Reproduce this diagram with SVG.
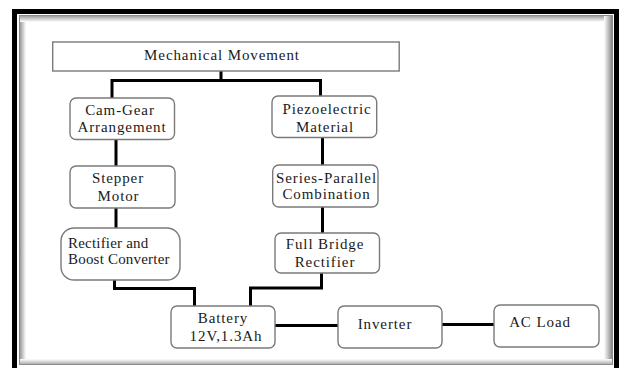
<svg xmlns="http://www.w3.org/2000/svg" width="619" height="368" viewBox="0 0 619 368">
<defs>
<linearGradient id="shL" x1="0" y1="0" x2="1" y2="0"><stop offset="0" stop-color="#9a9a9a"/><stop offset="1" stop-color="#ffffff"/></linearGradient>
<linearGradient id="shR" x1="1" y1="0" x2="0" y2="0"><stop offset="0" stop-color="#8a8a8a"/><stop offset="1" stop-color="#ffffff"/></linearGradient>
<linearGradient id="shT" x1="0" y1="0" x2="0" y2="1"><stop offset="0" stop-color="#a0a0a0"/><stop offset="1" stop-color="#ffffff"/></linearGradient>
<linearGradient id="shB" x1="0" y1="1" x2="0" y2="0"><stop offset="0" stop-color="#b0b0b0"/><stop offset="1" stop-color="#ffffff"/></linearGradient>
<style>
.box{fill:#ffffff;stroke:#7a7a7a;stroke-width:1.4}
.t{font-family:'Liberation Serif','Times New Roman','DejaVu Serif',serif;font-size:15px;fill:#1a1a1a;letter-spacing:0.9px}
.c{text-anchor:middle}
.w{fill:none;stroke:#000000;stroke-width:3;stroke-linejoin:miter}
</style>
</defs>
<rect width="619" height="368" fill="#ffffff"/>
<g id="frame">
<rect x="14.5" y="11.5" width="602" height="400" fill="none" stroke="#000" stroke-width="5"/>
<rect x="20" y="16" width="6" height="348" fill="url(#shL)"/>
<rect x="20" y="16" width="592" height="6" fill="url(#shT)"/>
<rect x="604" y="16" width="8" height="348" fill="url(#shR)"/>
<rect x="20" y="359" width="592" height="5" fill="url(#shB)"/>
<rect x="19.5" y="15.5" width="593" height="349" fill="none" stroke="#8c8c8c" stroke-width="1"/>
</g>
<g id="connectors">
<path class="w" d="M221 71 V80.5 M110.5 80.5 H322 M112 79 V98 M320.5 79 V96"/>
<path class="w" d="M116 139 V166 M116 208 V228"/>
<path class="w" d="M322.5 137 V165 M322.5 207 V233"/>
<path class="w" d="M114.5 280 V288.5 H194.5 V306"/>
<path class="w" d="M321.5 273 V288 H250.5 V306"/>
<path class="w" d="M275 325.5 H338 M442 324.5 H494"/>
</g>
<g id="mechanical">
<rect class="box" x="52.7" y="42" width="346.5" height="29"/>
<text class="t c" x="222" y="60">Mechanical Movement</text>
</g>
<g id="camgear">
<rect class="box" x="70" y="98" width="104.5" height="41.5" rx="6"/>
<text class="t c" x="120" y="115">Cam-Gear</text>
<text class="t c" x="122" y="132">Arrangement</text>
</g>
<g id="piezo">
<rect class="box" x="272" y="96" width="104.7" height="41.5" rx="6"/>
<text class="t c" x="327" y="114">Piezoelectric</text>
<text class="t c" x="325" y="131.5">Material</text>
</g>
<g id="stepper">
<rect class="box" x="70" y="166" width="105" height="42" rx="6"/>
<text class="t c" x="118" y="183.3">Stepper</text>
<text class="t c" x="118.5" y="200.7">Motor</text>
</g>
<g id="series">
<rect class="box" x="272.7" y="165" width="105.3" height="42" rx="6"/>
<text class="t c" x="326.5" y="182.7">Series-Parallel</text>
<text class="t c" x="326.5" y="199.3">Combination</text>
</g>
<g id="rectboost">
<rect class="box" x="61" y="228" width="119" height="52" rx="13"/>
<text class="t" x="68" y="248" style="letter-spacing:0.2px">Rectifier and</text>
<text class="t" x="68" y="264" style="letter-spacing:0.2px">Boost Converter</text>
</g>
<g id="fullbridge">
<rect class="box" x="275" y="233" width="104.5" height="40" rx="6"/>
<text class="t c" x="325" y="249.3">Full Bridge</text>
<text class="t c" x="325" y="266.7">Rectifier</text>
</g>
<g id="battery">
<rect class="box" x="171" y="306" width="104" height="42" rx="6"/>
<text class="t c" x="223" y="322.7">Battery</text>
<text class="t c" x="226" y="340.7">12V,1.3Ah</text>
</g>
<g id="inverter">
<rect class="box" x="338" y="306" width="104" height="42" rx="6"/>
<text class="t c" x="385" y="329.3">Inverter</text>
</g>
<g id="acload">
<rect class="box" x="494" y="305" width="105" height="42" rx="6"/>
<text class="t c" x="540" y="327.3">AC Load</text>
</g>
</svg>
